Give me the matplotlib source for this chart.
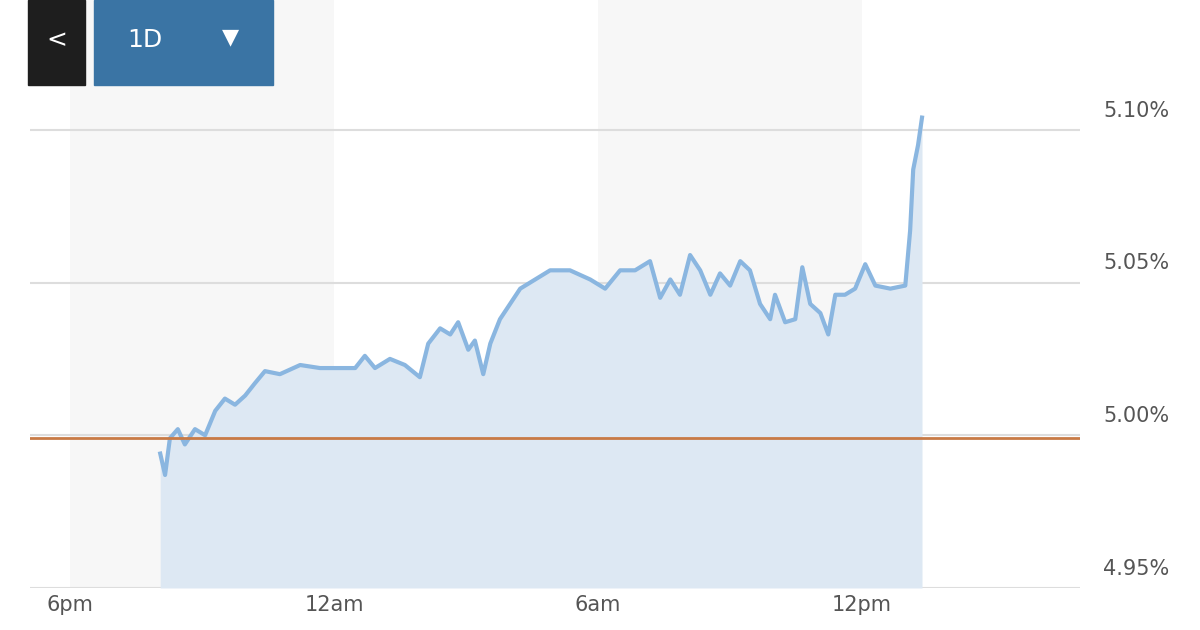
import matplotlib.pyplot as plt
from matplotlib.patches import Rectangle

# hours since 6pm, yield in %
hours = [2.05, 2.16, 2.27, 2.45, 2.61, 2.84, 3.07, 3.30, 3.52, 3.75, 3.98, 4.20, 4.43, 4.77,
         5.23, 5.68, 6.14, 6.48, 6.70, 6.93, 7.27, 7.61, 7.95, 8.14, 8.41, 8.64, 8.82, 9.05,
         9.20, 9.39, 9.55, 9.77, 10.0, 10.23, 10.57, 10.91, 11.36, 11.82, 12.16, 12.5, 12.84,
         13.18, 13.41, 13.64, 13.86, 14.09, 14.32, 14.55, 14.77, 15.0, 15.23, 15.45, 15.68,
         15.91, 16.02, 16.25, 16.48, 16.64, 16.82, 17.05, 17.23, 17.39, 17.61, 17.84, 18.07,
         18.30, 18.64, 18.98, 19.09, 19.16, 19.27, 19.36]
yields = [4.994, 4.987, 4.999, 5.002, 4.997, 5.002, 5.000, 5.008, 5.012, 5.010, 5.013, 5.017,
          5.021, 5.020, 5.023, 5.022, 5.022, 5.022, 5.026, 5.022, 5.025, 5.023, 5.019, 5.030,
          5.035, 5.033, 5.037, 5.028, 5.031, 5.020, 5.030, 5.038, 5.043, 5.048, 5.051, 5.054,
          5.054, 5.051, 5.048, 5.054, 5.054, 5.057, 5.045, 5.051, 5.046, 5.059, 5.054, 5.046,
          5.053, 5.049, 5.057, 5.054, 5.043, 5.038, 5.046, 5.037, 5.038, 5.055, 5.043, 5.040,
          5.033, 5.046, 5.046, 5.048, 5.056, 5.049, 5.048, 5.049, 5.067, 5.087, 5.095, 5.104]
prev_close = 4.999
y_ticks = [4.95, 5.00, 5.05, 5.10]
x_ticks = [0, 6, 12, 18]
x_labels = ["6pm", "12am", "6am", "12pm"]

fig = plt.figure(figsize=(12, 6.3), dpi=100)
ax = fig.add_axes([0.025, 0.0667, 0.875, 0.9333])
ax.set_xlim(-0.909, 22.95)
ax.set_ylim(4.95, 5.1425)

for a, b in [(0, 6), (12, 18)]:
    ax.axvspan(a, b, color="#f7f7f7", zorder=0, lw=0)
for t in y_ticks:
    ax.axhline(t, color="#dddddd", lw=1.5, zorder=1)
    ax.text(1.022, t + 0.003, f"{t:.2f}%", transform=ax.get_yaxis_transform(),
            ha="left", va="bottom", fontsize=15, color="#555555", clip_on=False)

ax.fill_between(hours, yields, 4.95, color="#dde8f3", zorder=2, lw=0)
ax.plot(hours, yields, color="#8ab6e0", lw=3, zorder=3)
ax.axhline(prev_close, color="#c87a45", lw=2, zorder=4)

ax.set_xticks(x_ticks)
ax.set_xticklabels(x_labels, fontsize=15, color="#555555")
ax.tick_params(axis="x", length=0, pad=5)
ax.set_yticks([])
for s in ax.spines.values():
    s.set_visible(False)

# buttons top left
fig.patches.append(Rectangle((28 / 1200, 1 - 85 / 630), 57 / 1200, 85 / 630,
                             transform=fig.transFigure, color="#1e1e1e", zorder=5))
fig.patches.append(Rectangle((94 / 1200, 1 - 85 / 630), 179 / 1200, 85 / 630,
                             transform=fig.transFigure, color="#3a74a4", zorder=5))
fig.text(57 / 1200, 1 - 40 / 630, "<", color="white", fontsize=18, ha="center", va="center",
         zorder=6)
fig.text(145 / 1200, 1 - 40 / 630, "1D", color="white", fontsize=18, ha="center", va="center",
         zorder=6)
fig.text(230 / 1200, 1 - 37 / 630, "▼", color="white", fontsize=16, ha="center", va="center",
         zorder=6)

fig.savefig("out.png", dpi=100)
